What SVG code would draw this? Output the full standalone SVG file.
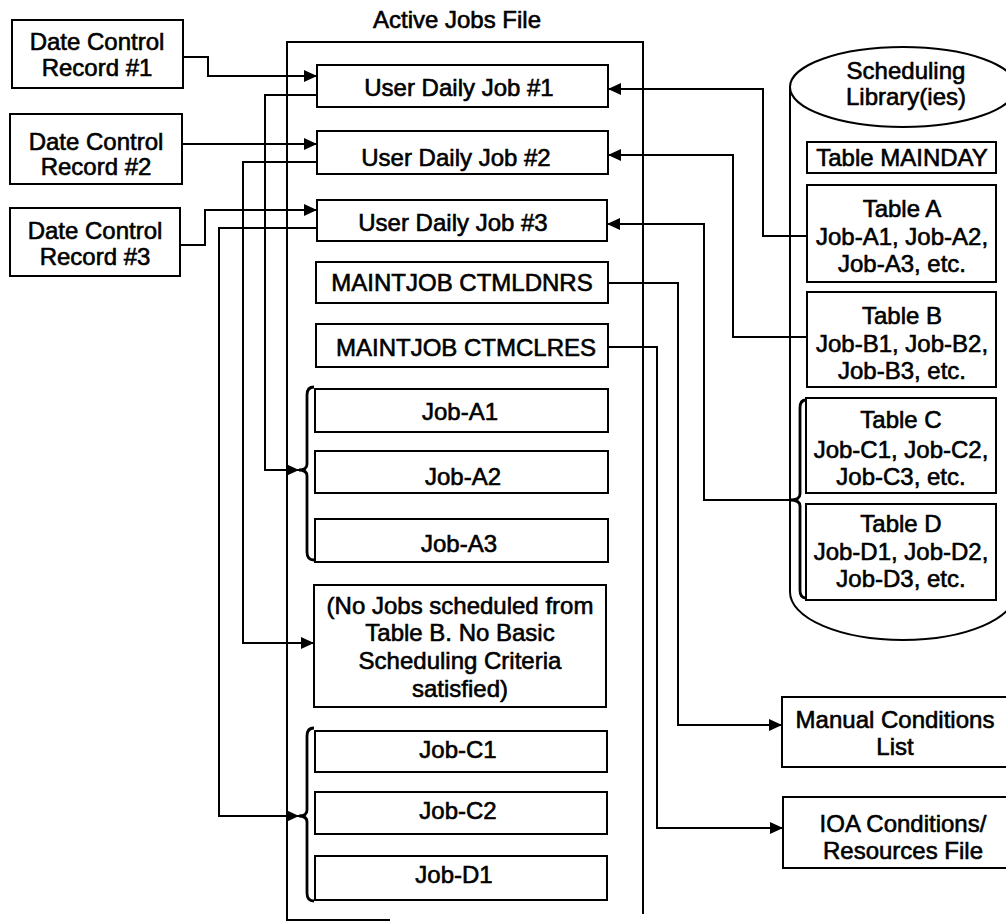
<svg xmlns="http://www.w3.org/2000/svg" width="1006" height="922" viewBox="0 0 1006 922">
<style>
text{font-family:"Liberation Sans",Arial,sans-serif;font-size:24px;fill:#000;stroke:#000;stroke-width:0.6;text-anchor:middle}
.box{fill:#fff;stroke:#000;stroke-width:2}
.ln{fill:none;stroke:#000;stroke-width:2}
.br{fill:none;stroke:#000;stroke-width:2.8}
.ar{fill:none;stroke:#000;stroke-width:2;marker-end:url(#ah)}
</style>
<defs>
<marker id="ah" markerUnits="userSpaceOnUse" markerWidth="14" markerHeight="12" refX="13" refY="6" orient="auto">
<path d="M0,0 L13,6 L0,12 z" fill="#000"/>
</marker>
</defs>
<rect width="1006" height="922" fill="#fff"/>

<g id="scheduling-library">
<path class="ln" d="M790,87 V592 A113,48 0 0 0 1016,592 V87"/>
<ellipse cx="903" cy="87" rx="113" ry="40" fill="#fff" stroke="#000" stroke-width="2"/>
<text x="906" y="79">Scheduling</text>
<text x="906" y="105">Library(ies)</text>
</g>

<g id="active-jobs-file">
<path class="ln" d="M390,920 H287 V42 H643 V914" stroke-width="1.8"/>
<text x="457" y="28">Active Jobs File</text>
</g>

<g id="connectors">
<path class="ar" d="M183,57 H208 V76 H317"/>
<path class="ar" d="M182,144 H317"/>
<path class="ar" d="M180,245 H205 V210 H317"/>
<path class="ar" d="M317,95 H265 V470 H299"/>
<path class="ar" d="M317,162 H243 V643 H314"/>
<path class="ar" d="M317,228 H219 V816 H299"/>
<path class="ar" d="M807,236 H763 V89 H608"/>
<path class="ar" d="M807,337 H733 V155 H608"/>
<path class="ar" d="M790,500 H704 V224 H607"/>
<path class="ar" d="M608,283 H678 V725 H782"/>
<path class="ar" d="M608,347 H657 V828 H783"/>
</g>

<g id="dcr1"><rect class="box" x="12" y="20" width="171" height="68"/><text x="97" y="50">Date Control</text><text x="97" y="76">Record #1</text></g>
<g id="dcr2"><rect class="box" x="10" y="114" width="172" height="70"/><text x="96" y="150">Date Control</text><text x="96" y="175">Record #2</text></g>
<g id="dcr3"><rect class="box" x="10" y="208" width="170" height="68"/><text x="95" y="239">Date Control</text><text x="95" y="265">Record #3</text></g>

<g id="udj1"><rect class="box" x="317" y="65" width="291" height="42"/><text x="459" y="96">User Daily Job #1</text></g>
<g id="udj2"><rect class="box" x="317" y="131" width="291" height="43"/><text x="456" y="166">User Daily Job #2</text></g>
<g id="udj3"><rect class="box" x="317" y="200" width="290" height="41"/><text x="453" y="231">User Daily Job #3</text></g>
<g id="ctmldnrs"><rect class="box" x="316" y="262" width="292" height="41"/><text x="462" y="291">MAINTJOB CTMLDNRS</text></g>
<g id="ctmclres"><rect class="box" x="316" y="324" width="292" height="43"/><text x="466" y="356">MAINTJOB CTMCLRES</text></g>

<g id="brace-a"><path class="br" d="M314,387 Q307,387 307,395 V464 Q307,470 299,470 Q307,470 307,476 V552 Q307,560 314,560"/></g>
<g id="job-a1"><rect class="box" x="315" y="389" width="293" height="43"/><text x="460" y="420">Job-A1</text></g>
<g id="job-a2"><rect class="box" x="315" y="451" width="293" height="42"/><text x="463" y="485">Job-A2</text></g>
<g id="job-a3"><rect class="box" x="315" y="519" width="293" height="43"/><text x="459" y="552">Job-A3</text></g>

<g id="no-jobs"><rect class="box" x="314" y="585" width="292" height="122"/>
<text x="460" y="614">(No Jobs scheduled from</text>
<text x="460" y="641">Table B. No Basic</text>
<text x="460" y="669">Scheduling Criteria</text>
<text x="460" y="697">satisfied)</text></g>

<g id="brace-c"><path class="br" d="M314,728 Q307,728 307,736 V810 Q307,816 299,816 Q307,816 307,822 V893 Q307,901 314,901"/></g>
<g id="job-c1"><rect class="box" x="315" y="731" width="292" height="41"/><text x="458" y="758">Job-C1</text></g>
<g id="job-c2"><rect class="box" x="315" y="792" width="292" height="42"/><text x="458" y="819">Job-C2</text></g>
<g id="job-d1"><rect class="box" x="315" y="856" width="292" height="44"/><text x="454" y="883">Job-D1</text></g>

<g id="table-mainday"><rect class="box" x="807" y="142" width="189" height="31"/><text x="902" y="166">Table MAINDAY</text></g>
<g id="table-a"><rect class="box" x="807" y="185" width="189" height="97"/><text x="902" y="217">Table A</text><text x="902" y="245">Job-A1, Job-A2,</text><text x="902" y="272">Job-A3, etc.</text></g>
<g id="table-b"><rect class="box" x="807" y="292" width="189" height="95"/><text x="902" y="324">Table B</text><text x="902" y="352">Job-B1, Job-B2,</text><text x="902" y="379">Job-B3, etc.</text></g>
<g id="brace-cd"><path class="br" d="M806,400 Q800,400 800,408 V494 Q800,500 790,500 Q800,500 800,506 V590 Q800,598 806,598"/></g>
<g id="table-c"><rect class="box" x="806" y="398" width="190" height="95"/><text x="901" y="428">Table C</text><text x="901" y="458">Job-C1, Job-C2,</text><text x="901" y="485">Job-C3, etc.</text></g>
<g id="table-d"><rect class="box" x="806" y="504" width="190" height="96"/><text x="901" y="532">Table D</text><text x="901" y="560">Job-D1, Job-D2,</text><text x="901" y="587">Job-D3, etc.</text></g>

<g id="manual-conditions"><rect class="box" x="782" y="697" width="230" height="70"/><text x="895" y="728">Manual Conditions</text><text x="895" y="755">List</text></g>
<g id="ioa-conditions"><rect class="box" x="783" y="797" width="230" height="71"/><text x="903" y="832">IOA Conditions/</text><text x="903" y="859">Resources File</text></g>
</svg>
